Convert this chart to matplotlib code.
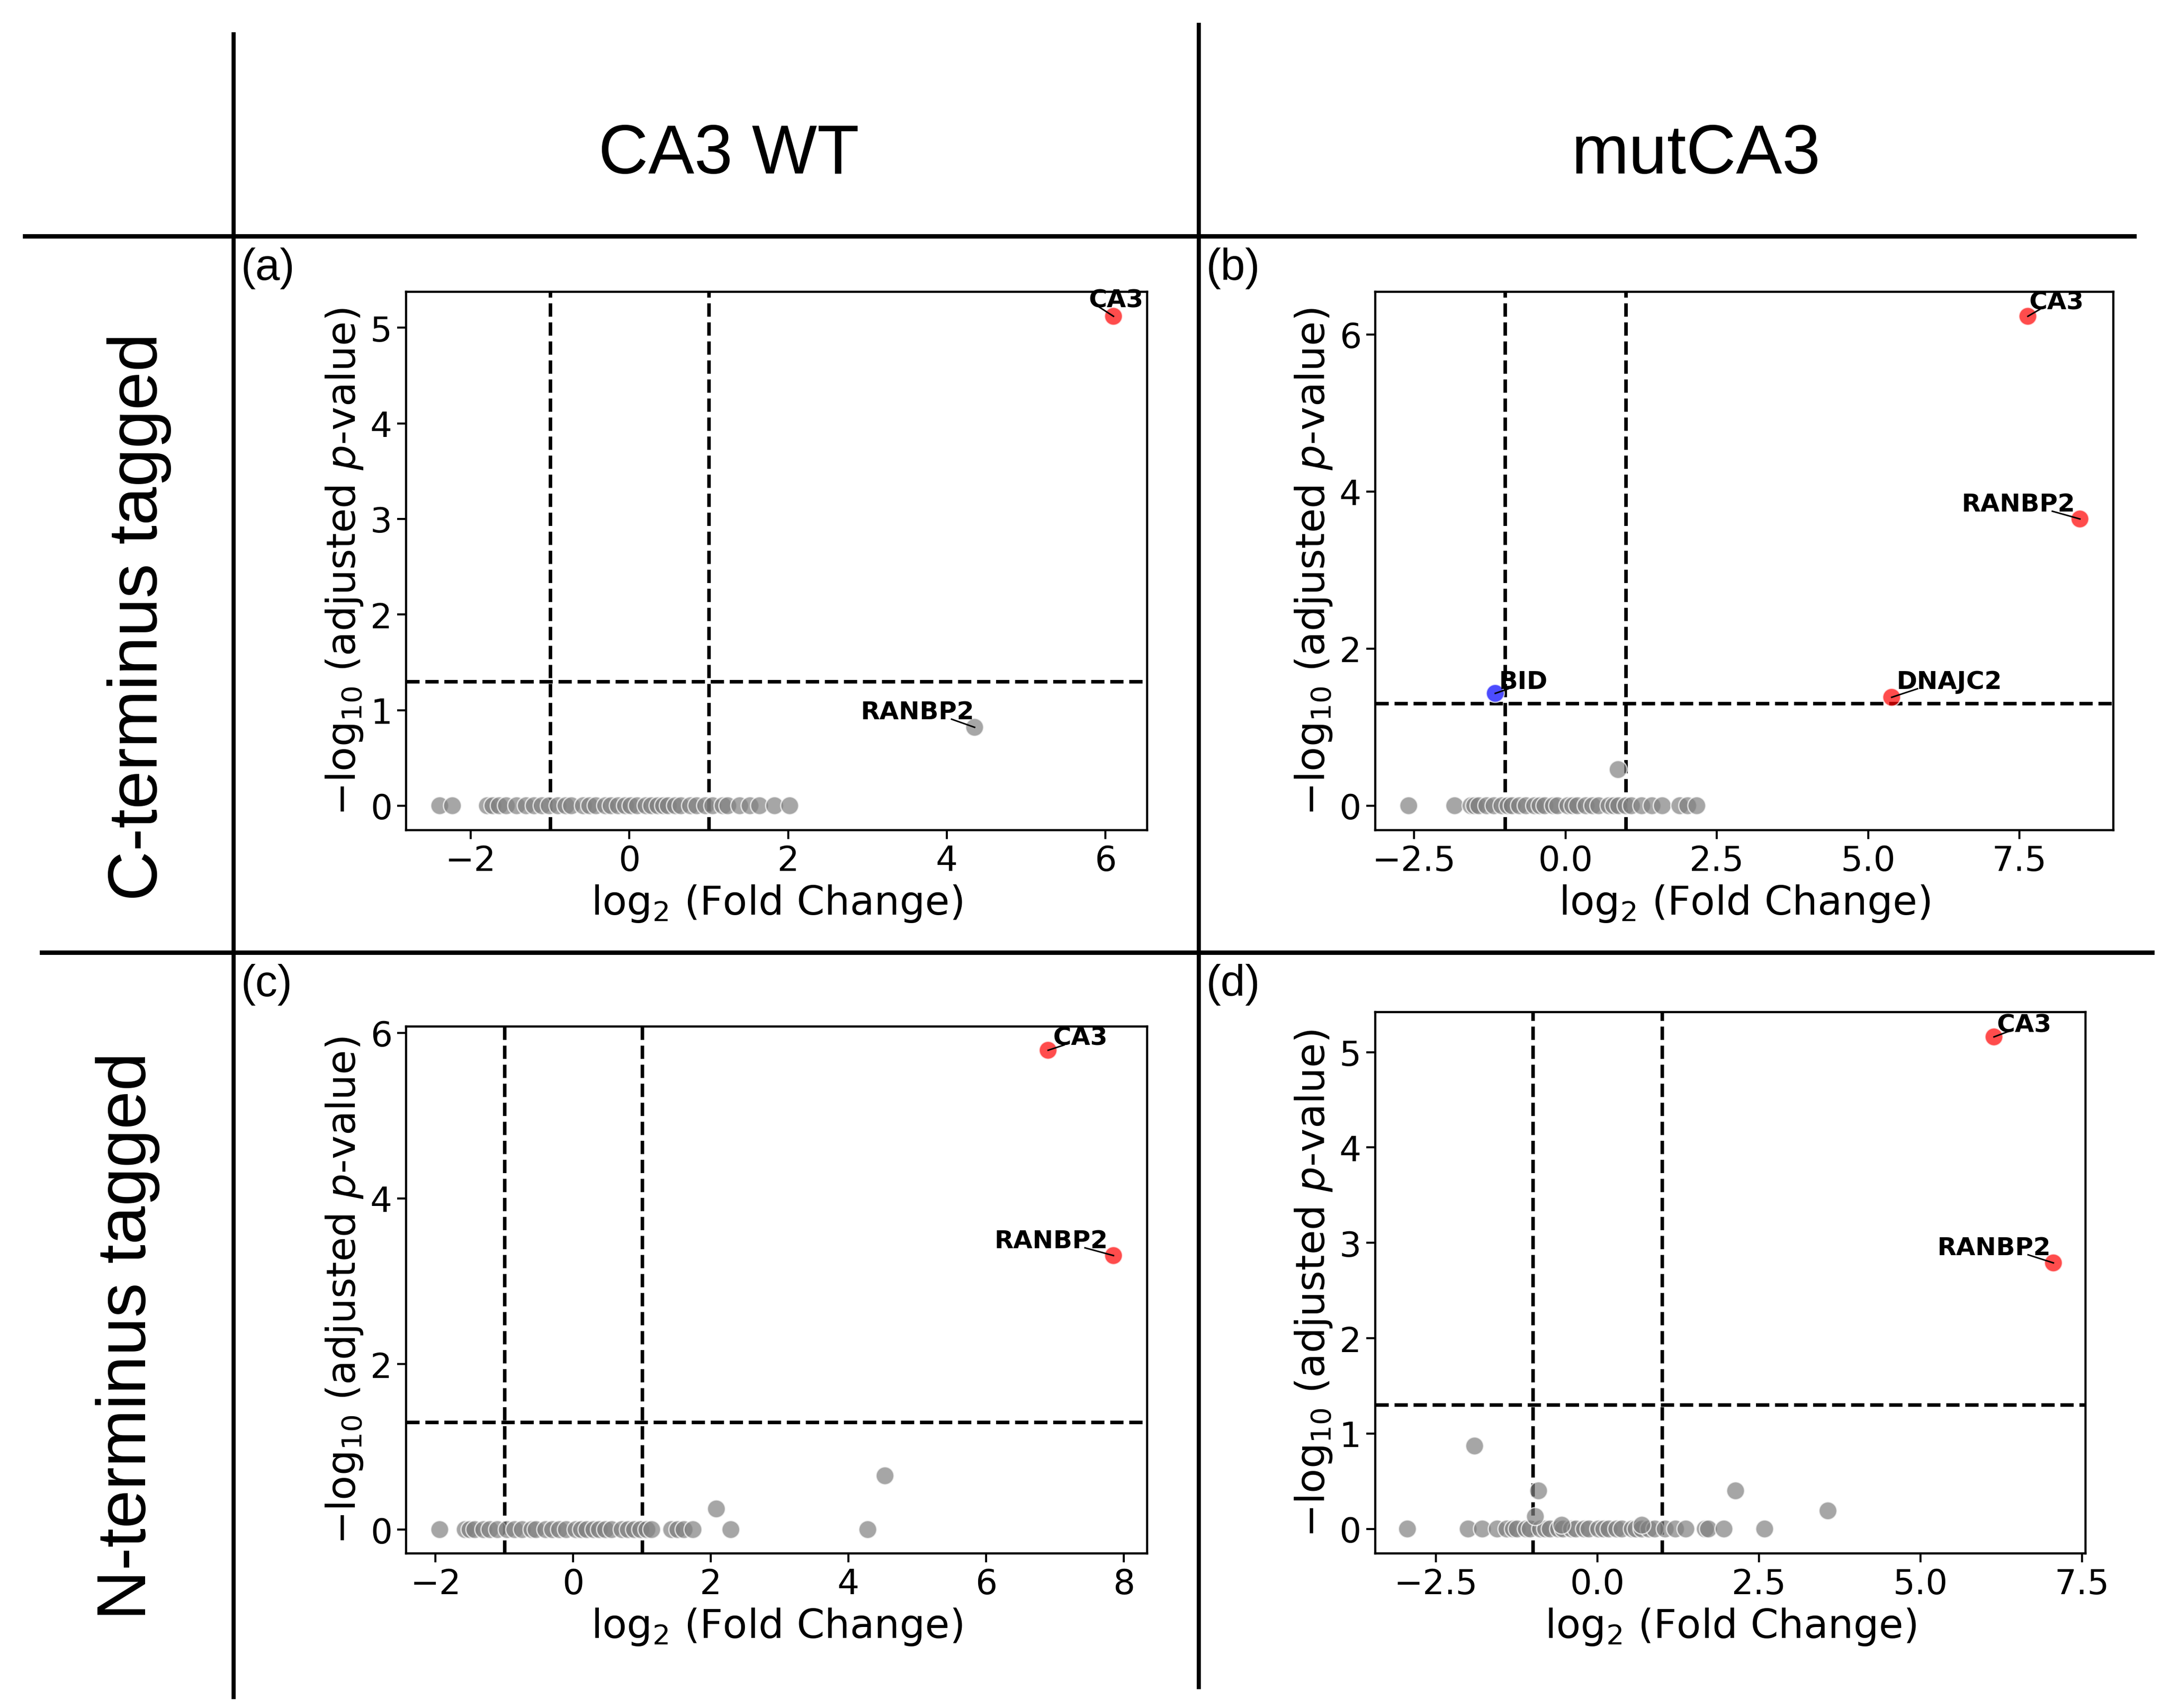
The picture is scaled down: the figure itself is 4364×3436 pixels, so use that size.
import matplotlib
matplotlib.use("Agg")
import matplotlib.pyplot as plt
from matplotlib.lines import Line2D
from matplotlib.ticker import MultipleLocator

# panel (a): C-terminus tagged, CA3 WT
a_lfc = [-2.39, -2.23, -1.79, -1.72, -1.64, -1.55, -1.42, -1.3, -1.2, -1.1, -1.01, -0.9, -0.8,
         -0.73, -0.58, -0.5, -0.42, -0.3, -0.23, -0.14, -0.05, 0.02, 0.1, 0.21, 0.28, 0.36,
         0.43, 0.49, 0.58, 0.65, 0.77, 0.85, 0.96, 1.05, 1.18, 1.24, 1.39, 1.52, 1.64, 1.83,
         2.02, 4.35, 6.1]
a_nlp = [0] * 41 + [0.82, 5.12]
a_genes = ["RANBP2", "CA3"]
a_gene_lfc = [4.35, 6.1]
a_gene_nlp = [0.82, 5.12]
a_text_xy = [(3.63, 0.98), (6.13, 5.29)]

# panel (b): C-terminus tagged, mutCA3
b_lfc = [-2.59, -1.83, -1.56, -1.5, -1.43, -1.3, -1.18, -1.05, -0.95, -0.88, -0.76, -0.65,
         -0.51, -0.42, -0.34, -0.2, -0.13, 0.04, 0.12, 0.2, 0.34, 0.45, 0.55, 0.72, 0.8, 0.88,
         1.0, 1.09, 1.26, 1.43, 1.6, 1.89, 2.02, 2.17, 0.87, -1.16, 5.39, 8.5, 7.64]
b_nlp = [0] * 34 + [0.46, 1.43, 1.38, 3.65, 6.23]
b_genes = ["BID", "DNAJC2", "RANBP2", "CA3"]
b_gene_lfc = [-1.16, 5.39, 8.5, 7.64]
b_gene_nlp = [1.43, 1.38, 3.65, 6.23]
b_text_xy = [(-0.7, 1.58), (6.34, 1.58), (7.48, 3.84), (8.11, 6.41)]

# panel (c): N-terminus tagged, CA3 WT
c_lfc = [-1.94, -1.57, -1.5, -1.43, -1.3, -1.21, -1.1, -0.96, -0.85, -0.74, -0.6, -0.54, -0.4,
         -0.3, -0.2, -0.1, 0.04, 0.12, 0.2, 0.3, 0.38, 0.47, 0.56, 0.71, 0.8, 0.89, 0.98, 1.07,
         1.14, 1.43, 1.52, 1.61, 1.74, 2.29, 4.28, 2.08, 4.53, 7.85, 6.9]
c_nlp = [0] * 35 + [0.25, 0.65, 3.31, 5.79]
c_genes = ["RANBP2", "CA3"]
c_gene_lfc = [7.85, 6.9]
c_gene_nlp = [3.31, 5.79]
c_text_xy = [(6.94, 3.49), (7.37, 5.94)]

# panel (d): N-terminus tagged, mutCA3
d_lfc = [-2.94, -2.0, -1.78, -1.55, -1.4, -1.3, -1.24, -1.1, -1.04, -0.88, -0.8, -0.73, -0.6,
         -0.53, -0.4, -0.33, -0.2, -0.13, 0.02, 0.1, 0.18, 0.3, 0.38, 0.54, 0.6, 0.69, 0.8, 0.89,
         1.05, 1.21, 1.37, 1.67, 1.72, 1.96, 2.59,
         -1.9, -0.91, -0.96, 2.14, 3.57, -0.55, 0.69, 7.06, 6.14]
d_nlp = [0] * 35 + [0.87, 0.40, 0.13, 0.40, 0.19, 0.04, 0.04, 2.79, 5.16]
d_genes = ["RANBP2", "CA3"]
d_gene_lfc = [7.06, 6.14]
d_gene_nlp = [2.79, 5.16]
d_text_xy = [(6.14, 2.95), (6.61, 5.29)]

col_titles = ["CA3 WT", "mutCA3"]
row_titles = ["C-terminus tagged", "N-terminus tagged"]
panel_tags = ["(a)", "(b)", "(c)", "(d)"]

LFC_CUT = 1.0
P_CUT = 1.3

fig = plt.figure(figsize=(21.82, 17.185), dpi=200)

axes_pos = [
    [0.1872, 0.5138, 0.3417, 0.3151],
    [0.634, 0.5138, 0.3404, 0.3151],
    [0.1872, 0.0904, 0.3417, 0.3086],
    [0.634, 0.0904, 0.3276, 0.3168],
]
# tick steps (x, y) per panel, as in the original
tick_steps = [(2, 1), (2.5, 2), (2, 2), (2.5, 1)]
panels = [
    (a_lfc, a_nlp, a_genes, a_gene_lfc, a_gene_nlp, a_text_xy),
    (b_lfc, b_nlp, b_genes, b_gene_lfc, b_gene_nlp, b_text_xy),
    (c_lfc, c_nlp, c_genes, c_gene_lfc, c_gene_nlp, c_text_xy),
    (d_lfc, d_nlp, d_genes, d_gene_lfc, d_gene_nlp, d_text_xy),
]


def pick_color(x, y):
    if y > P_CUT and x > LFC_CUT:
        return "red"
    if y > P_CUT and x < -LFC_CUT:
        return "blue"
    return "grey"


labels = []
for pos, steps, (lfc, nlp, genes, glfc, gnlp, txy) in zip(axes_pos, tick_steps, panels):
    ax = fig.add_axes(pos)
    cols = [pick_color(x, y) for x, y in zip(lfc, nlp)]
    ax.scatter(lfc, nlp, c=cols, s=170, alpha=0.7, edgecolors="white", linewidths=1.0, zorder=3)
    ax.axhline(P_CUT, color="black", ls="--", lw=2.6, zorder=2)
    ax.axvline(-LFC_CUT, color="black", ls="--", lw=2.6, zorder=2)
    ax.axvline(LFC_CUT, color="black", ls="--", lw=2.6, zorder=2)
    for g, gx, gy, (tx, ty) in zip(genes, glfc, gnlp, txy):
        t = ax.text(tx, ty, g, ha="center", va="center", fontsize=18, fontweight="bold", zorder=5)
        labels.append((ax, t, tx, gx, gy))
    ax.xaxis.set_major_locator(MultipleLocator(steps[0]))
    ax.yaxis.set_major_locator(MultipleLocator(steps[1]))
    ax.set_xlabel(r"log$_2$ (Fold Change)", fontsize=29)
    ax.set_ylabel(r"$-$log$_{10}$ (adjusted $p$-value)", fontsize=29)
    ax.tick_params(labelsize=25, length=6.5, width=1.5)
    for sp in ax.spines.values():
        sp.set_linewidth(1.6)

# connector lines from the label corner nearest the point
fig.canvas.draw()
for ax, t, tx, gx, gy in labels:
    bb = t.get_window_extent()
    fx = 0.8 if tx < gx else 0.2
    px = bb.x0 + fx * bb.width
    py = bb.y0 + 0.2 * bb.height
    dx, dy = ax.transData.inverted().transform((px, py))
    ax.plot([dx, gx], [dy, gy], color="black", lw=1.1, zorder=4, scalex=False, scaley=False)

# column / row headers
fig.text(0.336, 0.909, col_titles[0], fontsize=50, family="Liberation Sans", ha="center", va="center")
fig.text(0.782, 0.909, col_titles[1], fontsize=50, family="Liberation Sans", ha="center", va="center")
fig.text(0.0641, 0.639, row_titles[0], fontsize=50, family="Liberation Sans", ha="center",
         va="center", rotation=90)
fig.text(0.059, 0.218, row_titles[1], fontsize=50, family="Liberation Sans", ha="center",
         va="center", rotation=90)

tag_xy = [(0.111, 0.843), (0.556, 0.843), (0.111, 0.4235), (0.556, 0.4235)]
for t, (tx, ty) in zip(panel_tags, tag_xy):
    fig.text(tx, ty, t, fontsize=32, family="Liberation Sans", ha="left", va="center")

# grid separators
fig.add_artist(Line2D([0.1077, 0.1077], [0.9796, 0.0065], color="black", lw=3.0))
fig.add_artist(Line2D([0.5526, 0.5526], [0.9853, 0.0122], color="black", lw=3.0))
fig.add_artist(Line2D([0.0115, 0.984], [0.8616, 0.8616], color="black", lw=3.2))
fig.add_artist(Line2D([0.0192, 0.9923], [0.4422, 0.4422], color="black", lw=3.2))

fig.savefig("out.png", dpi=200)
